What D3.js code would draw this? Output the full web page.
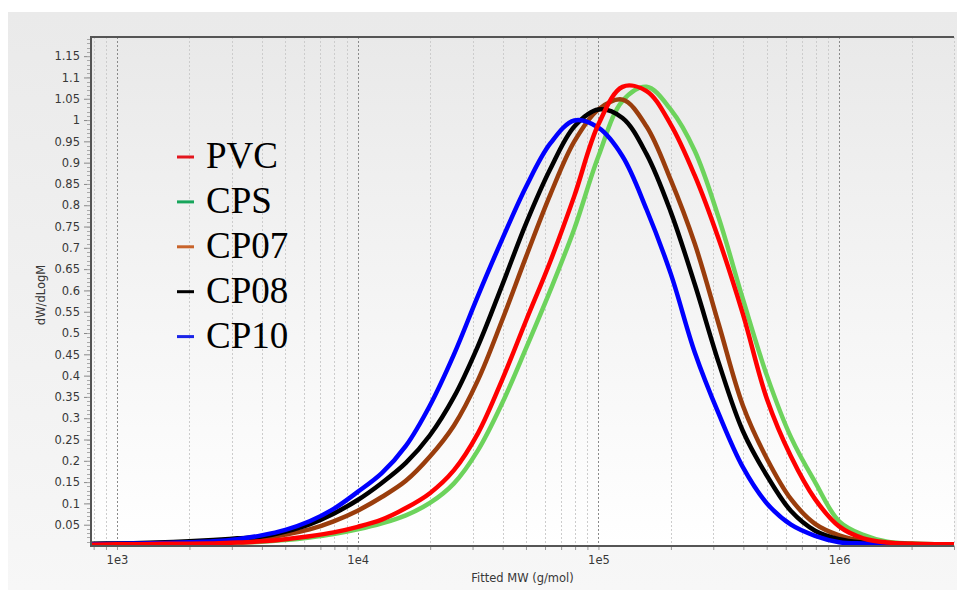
<!DOCTYPE html>
<html>
<head>
<meta charset="utf-8">
<script src="https://cdn.jsdelivr.net/npm/d3@7/dist/d3.min.js"></script>
<style>
  body { margin: 0; background: #fff; }
  text { font-family: "DejaVu Sans", sans-serif; }
</style>
</head>
<body>
<svg id="chart" width="957" height="590"></svg>
<script>
// log10 of molar mass, sampled along the x axis
const logMW = [2.89, 3.0, 3.1, 3.2, 3.3, 3.4, 3.5, 3.6, 3.7, 3.8, 3.9, 4.0, 4.1, 4.2, 4.3, 4.4,
  4.5, 4.6, 4.7, 4.8, 4.9, 5.0, 5.1, 5.2, 5.3, 5.4, 5.5, 5.6, 5.7, 5.8, 5.9, 6.0, 6.1, 6.2,
  6.3, 6.4, 6.48];

const pvc = [0.003, 0.004, 0.004, 0.005, 0.005, 0.006, 0.008, 0.011, 0.016, 0.023, 0.032, 0.045,
  0.062, 0.089, 0.124, 0.178, 0.265, 0.39, 0.53, 0.668, 0.822, 0.99, 1.078, 1.068, 0.99, 0.87,
  0.72, 0.545, 0.345, 0.21, 0.11, 0.046, 0.018, 0.008, 0.005, 0.004, 0.004];
const cps = [0.003, 0.004, 0.004, 0.005, 0.005, 0.006, 0.007, 0.010, 0.014, 0.020, 0.028, 0.039,
  0.053, 0.072, 0.101, 0.147, 0.225, 0.335, 0.465, 0.60, 0.745, 0.915, 1.045, 1.078, 1.025, 0.928,
  0.77, 0.58, 0.40, 0.255, 0.15, 0.058, 0.026, 0.01, 0.006, 0.004, 0.004];
const cp07 = [0.004, 0.005, 0.006, 0.007, 0.008, 0.010, 0.013, 0.018, 0.027, 0.039, 0.058, 0.083,
  0.115, 0.153, 0.21, 0.283, 0.39, 0.53, 0.68, 0.825, 0.95, 1.025, 1.048, 0.985, 0.86, 0.71,
  0.52, 0.33, 0.205, 0.11, 0.052, 0.025, 0.012, 0.007, 0.005, 0.004, 0.004];
const cp08 = [0.005, 0.006, 0.007, 0.009, 0.011, 0.014, 0.018, 0.022, 0.034, 0.051, 0.076, 0.108,
  0.148, 0.195, 0.26, 0.35, 0.47, 0.612, 0.758, 0.885, 0.985, 1.025, 1.005, 0.92, 0.785,
  0.615, 0.43, 0.27, 0.165, 0.082, 0.036, 0.016, 0.008, 0.005, 0.004, 0.004, 0.004];
const cp10 = [0.004, 0.005, 0.006, 0.007, 0.009, 0.011, 0.016, 0.025, 0.038, 0.058, 0.087, 0.127,
  0.171, 0.235, 0.33, 0.45, 0.588, 0.72, 0.844, 0.945, 0.999, 0.982, 0.915, 0.79, 0.64,
  0.455, 0.31, 0.185, 0.10, 0.050, 0.024, 0.009, 0.006, 0.005, 0.004, 0.004, 0.004];

const seriesNames = ["PVC", "CPS", "CP07", "CP08", "CP10"];
const seriesValues = [pvc, cps, cp07, cp08, cp10];
const lineColors = ["#ff0000", "#6dd35c", "#9a3d0c", "#000000", "#0000ff"];
const legendColors = ["#e3161e", "#17a55b", "#c8632a", "#000000", "#1a24e8"];
const drawOrder = [1, 2, 3, 4, 0];

const xTickLabels = ["1e3", "1e4", "1e5", "1e6"];
const yTicks = [0.05, 0.1, 0.15, 0.2, 0.25, 0.3, 0.35, 0.4, 0.45, 0.5, 0.55, 0.6, 0.65, 0.7,
  0.75, 0.8, 0.85, 0.9, 0.95, 1, 1.05, 1.1, 1.15];

const W = 957, H = 590;
const plotL = 91, plotR = 954, plotT = 37, plotB = 546;
const labelFont = "11.5px";

const svg = d3.select("#chart");
const defs = svg.append("defs");

const panelGrad = defs.append("linearGradient").attr("id", "panelGrad")
  .attr("x1", 0).attr("y1", 0).attr("x2", 0).attr("y2", 1);
panelGrad.append("stop").attr("offset", "0%").attr("stop-color", "#eaeaea");
panelGrad.append("stop").attr("offset", "100%").attr("stop-color", "#f7f7f7");

const plotGrad = defs.append("linearGradient").attr("id", "plotGrad")
  .attr("x1", 0).attr("y1", 0).attr("x2", 0).attr("y2", 1);
plotGrad.append("stop").attr("offset", "0%").attr("stop-color", "#e9e9e9");
plotGrad.append("stop").attr("offset", "100%").attr("stop-color", "#ffffff");

defs.append("clipPath").attr("id", "plotClip")
  .append("rect").attr("x", plotL).attr("y", plotT - 3)
  .attr("width", plotR - plotL).attr("height", plotB - plotT + 3);

svg.append("rect").attr("x", 8).attr("y", 12).attr("width", W - 8).attr("height", H - 12)
  .attr("fill", "url(#panelGrad)");
svg.append("rect").attr("x", plotL).attr("y", plotT).attr("width", plotR - plotL)
  .attr("height", plotB - plotT).attr("fill", "url(#plotGrad)");

const x = d3.scaleLog().domain([780, 3e6]).range([plotL, plotR]);
const y = d3.scaleLinear().domain([0, 1.195]).range([plotB, plotT]);

// vertical log grid
const gridValues = [];
[100, 1e3, 1e4, 1e5, 1e6].forEach(dec => {
  for (let k = 1; k <= 9; k++) {
    const v = dec * k;
    if (v >= 780 && v <= 3e6) gridValues.push(v);
  }
});
const isDecade = v => Math.abs(Math.log10(v) - Math.round(Math.log10(v))) < 1e-9;

svg.append("g").selectAll("line").data(gridValues).enter().append("line")
  .attr("x1", d => Math.round(x(d)) + 0.5).attr("x2", d => Math.round(x(d)) + 0.5)
  .attr("y1", plotT).attr("y2", plotB)
  .attr("stroke", d => isDecade(d) ? "#8a8a8a" : "#cccccc")
  .attr("stroke-width", 1)
  .attr("stroke-dasharray", "2,2");

// curves
const line = d3.line()
  .x((d, i) => x(Math.pow(10, logMW[i])))
  .y(d => y(d))
  .curve(d3.curveCatmullRom.alpha(0.5));

const curves = svg.append("g").attr("clip-path", "url(#plotClip)");
drawOrder.forEach(i => {
  curves.append("path")
    .datum(seriesValues[i])
    .attr("d", line)
    .attr("fill", "none")
    .attr("stroke", lineColors[i])
    .attr("stroke-width", 4.5)
    .attr("stroke-linejoin", "round")
    .attr("stroke-linecap", "round");
});

// y axis
const yAxis = d3.axisLeft(y).tickValues(yTicks).tickSize(6).tickPadding(4)
  .tickFormat(d => String(+d.toFixed(2)));
const gy = svg.append("g").attr("transform", `translate(${plotL - 1},0)`).call(yAxis)
  .attr("font-size", null).attr("font-family", null);
gy.select(".domain").remove();
gy.selectAll(".tick line").attr("stroke", "#888");
gy.selectAll(".tick text").attr("fill", "#383838").style("font-size", labelFont);

svg.append("g").selectAll("line").data(d3.range(1, 120).map(i => i / 100)).enter()
  .append("line")
  .attr("x1", plotL - 4).attr("x2", plotL)
  .attr("y1", d => Math.round(y(d)) + 0.5).attr("y2", d => Math.round(y(d)) + 0.5)
  .attr("stroke", "#aaa").attr("stroke-width", 1);

// x axis
const xAxis = d3.axisBottom(x).tickValues(gridValues).tickSize(4).tickPadding(6)
  .tickFormat(d => isDecade(d) ? xTickLabels[Math.round(Math.log10(d)) - 3] : "");
const gx = svg.append("g").attr("transform", `translate(0,${plotB})`).call(xAxis)
  .attr("font-size", null).attr("font-family", null);
gx.select(".domain").remove();
gx.selectAll(".tick line").attr("stroke", "#999");
gx.selectAll(".tick text").attr("fill", "#383838").style("font-size", labelFont);

// frame lines
svg.append("line").attr("x1", plotL).attr("x2", plotL).attr("y1", plotT - 1).attr("y2", plotB + 1)
  .attr("stroke", "#555").attr("stroke-width", 2);
svg.append("line").attr("x1", plotL - 1).attr("x2", plotR).attr("y1", plotB).attr("y2", plotB)
  .attr("stroke", "#555").attr("stroke-width", 2);
svg.append("line").attr("x1", plotL - 1).attr("x2", plotR).attr("y1", plotT).attr("y2", plotT)
  .attr("stroke", "#555").attr("stroke-width", 2);

// axis titles
svg.append("text").attr("x", (plotL + plotR) / 2).attr("y", 582)
  .attr("text-anchor", "middle").attr("fill", "#383838").style("font-size", labelFont)
  .text("Fitted MW (g/mol)");
svg.append("text").attr("transform", "translate(45,295) rotate(-90)")
  .attr("text-anchor", "middle").attr("fill", "#383838").style("font-size", labelFont)
  .text("dW/dLogM");

// legend
const legend = svg.append("g");
seriesNames.forEach((name, i) => {
  const base = 168 + i * 44.9;
  legend.append("line")
    .attr("x1", 177).attr("x2", 194)
    .attr("y1", base - 11).attr("y2", base - 11)
    .attr("stroke", legendColors[i]).attr("stroke-width", 3);
  legend.append("text")
    .attr("x", 206).attr("y", base)
    .attr("fill", "#000")
    .style("font-family", "'Liberation Serif', 'Times New Roman', serif")
    .style("font-size", "37px")
    .text(name);
});
</script>
</body>
</html>
